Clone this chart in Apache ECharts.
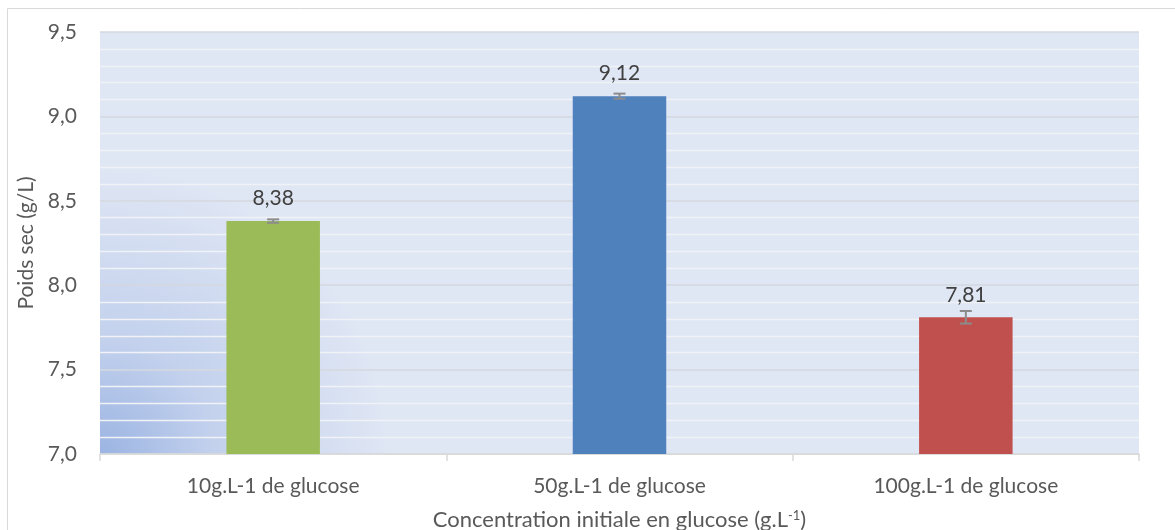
<!DOCTYPE html>
<html><head><meta charset="utf-8">
<script src="https://cdn.jsdelivr.net/npm/echarts@6/dist/echarts.min.js"></script>
<style>html,body{margin:0;padding:0;background:#fff}#c{width:1175px;height:530px}</style>
</head><body><div id="c"></div>
<script>
const categories = ['10g.L-1 de glucose', '50g.L-1 de glucose', '100g.L-1 de glucose'];
const values = [8.38, 9.12, 7.81];
const errors = [0.01, 0.015, 0.037];
const barColors = ['#9bbb59', '#4f81bd', '#c0504d'];
const yTicks = [7.0, 7.5, 8.0, 8.5, 9.0, 9.5];

const FONT = 'Lato';
const FS = 21;
const fmt = (v, d) => v.toFixed(d).replace('.', ',');

const chart = echarts.init(document.getElementById('c'), null, {renderer: 'canvas'});
chart.setOption({
  animation: false,
  textStyle: {fontFamily: FONT},
  graphic: [{
    type: 'rect', z: -10,
    shape: {x: 7.5, y: 8.5, width: 1200, height: 600},
    style: {fill: 'none', stroke: '#d9d9d9', lineWidth: 1}
  }],
  grid: {
    left: 100, right: 36, top: 32, bottom: 76, show: true, borderWidth: 0,
    containLabel: false, outerBoundsMode: 'none',
    backgroundColor: {
      type: 'radial', x: 0, y: 1, r: 0.68,
      colorStops: [
        {offset: 0, color: '#9bb4e2'},
        {offset: 0.4, color: '#c3d1ed'},
        {offset: 1, color: '#dfe6f4'}
      ]
    }
  },
  xAxis: {
    type: 'category', data: categories,
    axisLine: {lineStyle: {color: '#d9d9d9', width: 1.5}},
    axisTick: {show: true, length: 7, lineStyle: {color: '#d9d9d9', width: 1.5}},
    axisLabel: {color: '#595959', fontSize: FS, margin: 22, fontFamily: FONT},
    name: '{a|Concentration initiale en glucose (g.L}{s|-1}{a|)}',
    nameLocation: 'middle', nameGap: 55,
    nameTextStyle: {
      rich: {
        a: {color: '#595959', fontSize: 22, fontFamily: FONT},
        s: {color: '#595959', fontSize: 13, fontFamily: FONT, verticalAlign: 'top', padding: [0, 0, 9, 0]}
      }
    }
  },
  yAxis: {
    type: 'value', min: 7.0, max: 9.5, interval: 0.5,
    axisLine: {show: false}, axisTick: {show: false},
    axisLabel: {color: '#595959', fontSize: FS, margin: 23, fontFamily: FONT,
      formatter: v => yTicks.includes(Math.round(v * 10) / 10) ? fmt(v, 1) : ''},
    splitLine: {show: true, lineStyle: {color: '#d5d9df', width: 1.5}},
    minorTick: {show: false, splitNumber: 5},
    minorSplitLine: {show: true, lineStyle: {color: '#f0f2f6', width: 1.4}},
    name: 'Poids sec (g/L)', nameLocation: 'middle', nameGap: 61,
    nameTextStyle: {color: '#595959', fontSize: FS, fontFamily: FONT}
  },
  series: [{
    type: 'bar', barWidth: '27%',
    data: values.map((v, i) => ({value: v, itemStyle: {color: barColors[i]}})),
    label: {show: true, position: 'top', distance: 12, color: '#404040', fontSize: FS, fontFamily: FONT,
      formatter: p => fmt(p.value, 2)},
    z: 2
  }, {
    type: 'custom', z: 5,
    data: values.map((v, i) => [i, v - errors[i], v + errors[i]]),
    renderItem: (params, api) => {
      const lo = api.coord([api.value(0), api.value(1)]);
      const hi = api.coord([api.value(0), api.value(2)]);
      const w = 6;
      const st = {stroke: '#8c8c8c', lineWidth: 2};
      return {type: 'group', children: [
        {type: 'line', shape: {x1: lo[0], y1: lo[1], x2: hi[0], y2: hi[1]}, style: st},
        {type: 'line', shape: {x1: lo[0] - w, y1: lo[1], x2: lo[0] + w, y2: lo[1]}, style: st},
        {type: 'line', shape: {x1: hi[0] - w, y1: hi[1], x2: hi[0] + w, y2: hi[1]}, style: st}
      ]};
    }
  }]
});
</script></body></html>
